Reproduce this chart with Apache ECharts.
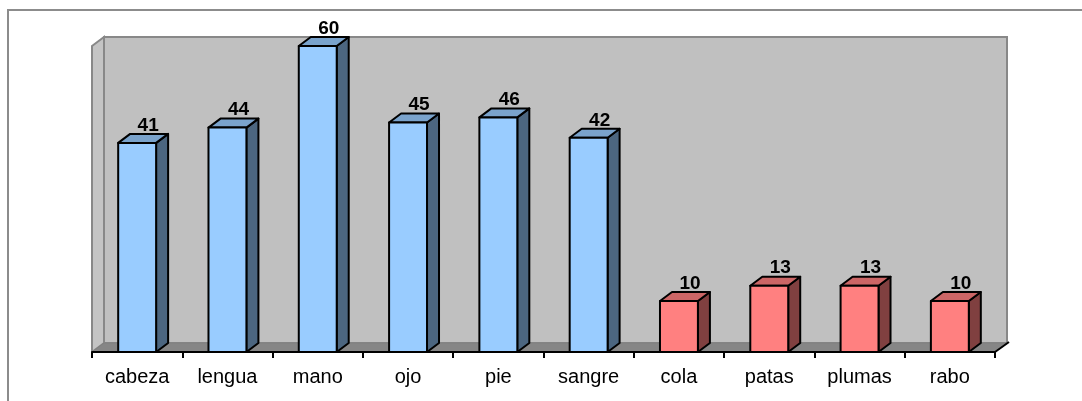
<!DOCTYPE html>
<html>
<head>
<meta charset="utf-8">
<script src="https://cdn.jsdelivr.net/npm/echarts@6/dist/echarts.min.js"></script>
<style>
html,body{margin:0;padding:0;background:#fff;}
#c{width:1082px;height:401px;}
</style>
</head>
<body>
<div id="c"></div>
<script>
var categories = ['cabeza','lengua','mano','ojo','pie','sangre','cola','patas','plumas','rabo'];
var values = [41,44,60,45,46,42,10,13,13,10];
var groups = [0,0,0,0,0,0,1,1,1,1];
var frontColors = ['#99CCFF','#FF8080'];
var topColors = ['#7AA3CC','#CC6666'];
var sideColors = ['#4C6680','#804040'];
var axisMax = 60;

var DX = 12, DY = 9;

var chart = echarts.init(document.getElementById('c'));

function wallsRender(params, api){
  var band = api.size([1,0])[0];
  var p0 = api.coord([0,0]);
  var pN = api.coord([categories.length-1,0]);
  var pT = api.coord([0,axisMax]);
  var L = p0[0]-band/2, R = pN[0]+band/2, B = p0[1], T = pT[1];
  return {type:'group', children:[
    {type:'polygon', shape:{points:[[L+DX,T-DY],[R+DX,T-DY],[R+DX,B-DY],[L+DX,B-DY]]},
      style:{fill:'#C0C0C0', stroke:'#888888', lineWidth:2}},
    {type:'polygon', shape:{points:[[L,T],[L+DX,T-DY],[L+DX,B-DY],[L,B]]},
      style:{fill:'#C4C4C4', stroke:'#888888', lineWidth:2}},
    {type:'polygon', shape:{points:[[L,B],[L+DX,B-DY],[R+DX,B-DY],[R,B]]},
      style:{fill:'#868686', stroke:'#808080', lineWidth:1}},
    {type:'line', shape:{x1:R,y1:B,x2:R+DX+2,y2:B-DY-1}, style:{stroke:'#000', lineWidth:2}}
  ]};
}

function barRender(params, api){
  var x = api.value(0), v = api.value(1), g = groups[params.dataIndex];
  var band = api.size([1,0])[0];
  var bw = band*0.42;
  var p = api.coord([x,v]);
  var b = api.coord([x,0]);
  var L = p[0]-bw/2, R = p[0]+bw/2, T = p[1], B = b[1];
  var st = {stroke:'#000', lineWidth:2, lineJoin:'round'};
  return {type:'group', children:[
    {type:'polygon', shape:{points:[[R,T],[R+DX,T-DY],[R+DX,B-DY],[R,B]]},
      style:Object.assign({fill:sideColors[g]}, st)},
    {type:'polygon', shape:{points:[[L,T],[L+DX,T-DY],[R+DX,T-DY],[R,T]]},
      style:Object.assign({fill:topColors[g]}, st)},
    {type:'rect', shape:{x:L,y:T,width:bw,height:B-T},
      style:Object.assign({fill:frontColors[g]}, st)},
    {type:'text', x:p[0]+DX-1, y:T-DY+1,
      style:{text:String(v), fill:'#000', font:'bold 19px "Liberation Sans", Arial, sans-serif',
        textAlign:'center', textVerticalAlign:'bottom'}}
  ]};
}

chart.setOption({
  animation:false,
  graphic:[{type:'rect', shape:{x:8,y:10,width:1200,height:500}, style:{fill:null, stroke:'#8C8C8C', lineWidth:2}, z:-10}],
  grid:{left:92, right:87, top:46, bottom:49},
  xAxis:{type:'category', data:categories, boundaryGap:true,
    axisLine:{show:true, lineStyle:{color:'#000', width:2}},
    axisTick:{show:true, length:6, lineStyle:{color:'#000', width:2}},
    axisLabel:{color:'#000', fontSize:20, fontFamily:'"Liberation Sans", Arial, sans-serif', margin:15},
    z:10},
  yAxis:{type:'value', min:0, max:axisMax, show:false, splitLine:{show:false}},
  series:[
    {type:'custom', renderItem:wallsRender, data:[[0,0]], z:1, silent:true},
    {type:'custom', renderItem:barRender, data:values.map(function(v,i){return [i,v];}), z:5}
  ]
});
</script>
</body>
</html>
